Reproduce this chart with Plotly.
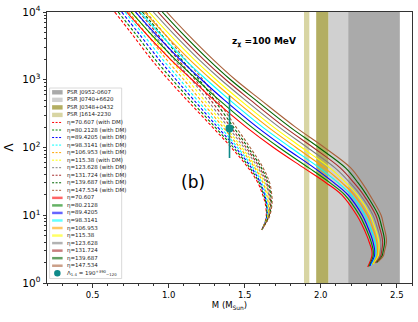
import plotly.graph_objects as go

# ---------------- data ----------------
ETA = [70.607, 80.2128, 89.4205, 98.3141, 106.953, 115.38, 123.628, 131.724, 139.687, 147.534]
CURVE_COLORS = ['#ff0000', '#008000', '#0000ff', '#00ffff', '#ffa500',
                '#ffff00', '#808080', '#a52a2a', '#006400', '#a9603a']

# Solid curves (no DM): M at given Lambda levels, one row per level, one column per eta
LAMBDA_SOLID = [10000, 5000, 2000, 1000, 500, 200, 100, 50, 30, 20, 10, 7, 5, 4, 3, 2.5]
M_SOLID_ROWS = [
    [0.724, 0.753, 0.782, 0.812, 0.841, 0.870, 0.899, 0.929, 0.958, 0.987],
    [0.843, 0.873, 0.903, 0.933, 0.963, 0.993, 1.023, 1.053, 1.083, 1.113],
    [1.012, 1.043, 1.074, 1.105, 1.136, 1.167, 1.198, 1.229, 1.260, 1.291],
    [1.154, 1.186, 1.217, 1.249, 1.281, 1.312, 1.344, 1.376, 1.407, 1.439],
    [1.299, 1.333, 1.367, 1.402, 1.436, 1.470, 1.504, 1.539, 1.573, 1.607],
    [1.510, 1.546, 1.582, 1.618, 1.654, 1.690, 1.726, 1.762, 1.798, 1.834],
    [1.689, 1.726, 1.763, 1.801, 1.838, 1.875, 1.912, 1.950, 1.987, 2.024],
    [1.888, 1.922, 1.957, 1.991, 2.025, 2.060, 2.094, 2.128, 2.163, 2.197],
    [2.036, 2.062, 2.088, 2.115, 2.141, 2.167, 2.193, 2.219, 2.246, 2.272],
    [2.138, 2.158, 2.179, 2.199, 2.220, 2.240, 2.260, 2.281, 2.301, 2.322],
    [2.237, 2.255, 2.273, 2.290, 2.308, 2.326, 2.344, 2.362, 2.379, 2.397],
    [2.274, 2.290, 2.305, 2.321, 2.336, 2.352, 2.368, 2.383, 2.399, 2.414],
    [2.303, 2.317, 2.331, 2.345, 2.359, 2.373, 2.387, 2.401, 2.415, 2.429],
    [2.319, 2.332, 2.344, 2.357, 2.369, 2.382, 2.395, 2.407, 2.420, 2.432],
    [2.336, 2.345, 2.355, 2.364, 2.373, 2.383, 2.392, 2.401, 2.411, 2.420],
    [2.336, 2.344, 2.353, 2.361, 2.369, 2.378, 2.386, 2.394, 2.403, 2.411],
]
M_SOLID_END = [2.309, 2.317, 2.324, 2.332, 2.339, 2.347, 2.355, 2.362, 2.370, 2.377]
LAMBDA_SOLID_END = [1.72, 1.76, 1.80, 1.83, 1.87, 1.91, 1.95, 1.98, 2.02, 2.06]

# Dashed curves (with DM)
LAMBDA_DM = [10000, 5000, 2000, 1000, 500, 200, 100, 50, 30, 20, 15, 10, 8]
M_DM_ROWS = [
    [0.645, 0.668, 0.691, 0.713, 0.736, 0.759, 0.782, 0.805, 0.827, 0.850],
    [0.750, 0.774, 0.798, 0.822, 0.846, 0.870, 0.893, 0.917, 0.941, 0.965],
    [0.886, 0.911, 0.936, 0.960, 0.985, 1.010, 1.035, 1.060, 1.084, 1.109],
    [0.999, 1.024, 1.049, 1.075, 1.100, 1.125, 1.150, 1.175, 1.201, 1.226],
    [1.121, 1.143, 1.166, 1.188, 1.210, 1.233, 1.255, 1.277, 1.300, 1.322],
    [1.288, 1.305, 1.322, 1.340, 1.357, 1.374, 1.391, 1.408, 1.426, 1.443],
    [1.412, 1.426, 1.440, 1.453, 1.467, 1.481, 1.495, 1.509, 1.522, 1.536],
    [1.523, 1.534, 1.545, 1.556, 1.567, 1.577, 1.588, 1.599, 1.610, 1.621],
    [1.587, 1.596, 1.604, 1.613, 1.621, 1.630, 1.638, 1.647, 1.655, 1.664],
    [1.618, 1.625, 1.631, 1.638, 1.645, 1.651, 1.658, 1.665, 1.671, 1.678],
    [1.635, 1.640, 1.645, 1.650, 1.655, 1.660, 1.665, 1.670, 1.675, 1.680],
    [1.642, 1.645, 1.647, 1.650, 1.653, 1.655, 1.658, 1.661, 1.663, 1.666],
    [1.634, 1.635, 1.636, 1.638, 1.639, 1.640, 1.641, 1.642, 1.644, 1.645],
]
M_DM_END = [1.612, 1.613, 1.613, 1.614, 1.615, 1.615, 1.616, 1.617, 1.617, 1.618]
LAMBDA_DM_END = [6.05, 6.10, 6.14, 6.19, 6.24, 6.28, 6.33, 6.38, 6.42, 6.47]

# Pulsar mass bands
PSR_NAMES = ['PSR J0952-0607', 'PSR J0740+6620', 'PSR J0348+0432', 'PSR J1614-2230']
PSR_LO = [2.18, 2.05, 1.97, 1.89]
PSR_HI = [2.52, 2.18, 2.05, 1.925]
PSR_COLORS = ['#aaaaaa', '#d0d0d0', '#b3ae62', '#d8d5a3']

# GW170817 constraint
M_14 = 1.4
LAMBDA_14 = 190
LAMBDA_14_PLUS = 390
LAMBDA_14_MINUS = 120

X_TICKS = [0.5, 1.0, 1.5, 2.0, 2.5]
X_TICK_TEXT = ['0.5', '1.0', '1.5', '2.0', '2.5']
Y_TICKS = [1, 10, 100, 1000, 10000]
Y_TICK_TEXT = ['10<sup>0</sup>', '10<sup>1</sup>', '10<sup>2</sup>', '10<sup>3</sup>', '10<sup>4</sup>']

TEAL = '#0e8a8a'
FONT = 'DejaVu Sans'

# ---------------- figure ----------------
fig = go.Figure()

for k, eta in enumerate(ETA):
    xs = [row[k] for row in M_DM_ROWS] + [M_DM_END[k]]
    ys = LAMBDA_DM + [LAMBDA_DM_END[k]]
    fig.add_trace(go.Scatter(x=xs, y=ys, mode='lines', line_shape='spline',
                             line=dict(color=CURVE_COLORS[k], width=1.1, dash='3px,2px'),
                             showlegend=False, hoverinfo='skip'))

for k, eta in enumerate(ETA):
    xs = [row[k] for row in M_SOLID_ROWS] + [M_SOLID_END[k]]
    ys = LAMBDA_SOLID + [LAMBDA_SOLID_END[k]]
    fig.add_trace(go.Scatter(x=xs, y=ys, mode='lines', line_shape='spline',
                             line=dict(color=CURVE_COLORS[k], width=1.1),
                             showlegend=False, hoverinfo='skip'))

fig.add_trace(go.Scatter(x=[M_14], y=[LAMBDA_14], mode='markers',
                         marker=dict(color=TEAL, size=8),
                         error_y=dict(type='data', symmetric=False, array=[LAMBDA_14_PLUS],
                                      arrayminus=[LAMBDA_14_MINUS], color=TEAL,
                                      thickness=1.6, width=0),
                         showlegend=False, hoverinfo='skip'))

shapes = []
for lo, hi, col in zip(PSR_LO, PSR_HI, PSR_COLORS):
    shapes.append(dict(type='rect', xref='x', yref='paper', x0=lo, x1=hi, y0=0, y1=1,
                       fillcolor=col, line=dict(width=0), layer='below'))

# ---- manual legend (paper coordinates) ----
PL, PR, PT, PB = 47.4, 412.2, 12.0, 283.0
W, H = PR - PL, PB - PT
def px(xp):
    return (xp - PL) / W
def py(yp):
    return (PB - yp) / H

annotations = []
shapes.append(dict(type='rect', xref='paper', yref='paper', x0=px(50), x1=px(122),
                   y0=py(278.5), y1=py(88), fillcolor='white',
                   line=dict(color='#d0d0d0', width=0.8), layer='above'))

row0, step = 92.3, 7.54
labels = []
row = 0
for name, col in zip(PSR_NAMES, PSR_COLORS):
    yc = row0 + step * row
    shapes.append(dict(type='rect', xref='paper', yref='paper', x0=px(52.5), x1=px(63),
                       y0=py(yc + 2.2), y1=py(yc - 2.2), fillcolor=col,
                       line=dict(width=0), layer='above'))
    labels.append((yc, name))
    row += 1
for k, eta in enumerate(ETA):
    yc = row0 + step * row
    shapes.append(dict(type='line', xref='paper', yref='paper', x0=px(52.5), x1=px(63),
                       y0=py(yc), y1=py(yc),
                       line=dict(color=CURVE_COLORS[k], width=1, dash='2px,1.5px'), layer='above'))
    labels.append((yc, f'η={eta} (with DM)'))
    row += 1
for k, eta in enumerate(ETA):
    yc = row0 + step * row
    shapes.append(dict(type='line', xref='paper', yref='paper', x0=px(52.5), x1=px(63),
                       y0=py(yc), y1=py(yc), opacity=0.6,
                       line=dict(color=CURVE_COLORS[k], width=2.5), layer='above'))
    labels.append((yc, f'η={eta}'))
    row += 1
yc = row0 + step * row
shapes.append(dict(type='circle', xref='paper', yref='paper', x0=px(54.5), x1=px(61),
                   y0=py(yc + 3.2), y1=py(yc - 3.2), fillcolor=TEAL,
                   line=dict(width=0), layer='above'))
labels.append((yc, f'Λ<sub>1.4</sub> = {LAMBDA_14}<sup>+{LAMBDA_14_PLUS}</sup><sub>−{LAMBDA_14_MINUS}</sub>'))

for yc, txt in labels:
    annotations.append(dict(xref='paper', yref='paper', x=px(65.5), y=py(yc), text=txt,
                            showarrow=False, xanchor='left', yanchor='middle',
                            font=dict(family=FONT, size=5.5, color='#222')))

annotations.append(dict(xref='x', yref='y', x=1.16, y=1.49, yanchor='middle', xanchor='center',
                        text='(b)', showarrow=False, font=dict(family=FONT, size=17, color='black')))
annotations.append(dict(xref='x', yref='y', x=1.625, y=3.557, yanchor='middle', xanchor='center',
                        text='<b>z<sub>χ</sub> =100 MeV</b>', showarrow=False,
                        font=dict(family=FONT, size=9, color='black')))

fig.update_layout(
    width=418, height=322,
    margin=dict(l=PL, r=418 - PR, t=PT, b=322 - PB, autoexpand=False),
    paper_bgcolor='white', plot_bgcolor='white',
    shapes=shapes, annotations=annotations,
    showlegend=False,
    font=dict(family=FONT, color='black'),
)
fig.update_xaxes(range=[0.2, 2.6], tickvals=X_TICKS, ticktext=X_TICK_TEXT, automargin=False,
                 ticks='outside', ticklen=3.5, tickwidth=0.8, tickcolor='#333',
                 minor=dict(dtick=0.1, tick0=0, ticks='outside', ticklen=2, tickwidth=0.6, tickcolor='#333'),
                 showline=True, linecolor='#333', linewidth=1, mirror=True, showgrid=False,
                 zeroline=False, tickfont=dict(family=FONT, size=8.5),
                 title=dict(text='M (M<sub>Sun</sub>)', font=dict(family=FONT, size=8.5), standoff=3))
minor_y = [m * 10 ** e for e in range(0, 4) for m in range(2, 10)]
fig.update_yaxes(type='log', range=[0, 4], tickvals=Y_TICKS, ticktext=Y_TICK_TEXT, automargin=False,
                 ticks='outside', ticklen=3.5, tickwidth=0.8, tickcolor='#333',
                 minor=dict(tickvals=minor_y, ticks='outside', ticklen=2, tickwidth=0.6, tickcolor='#333'),
                 showline=True, linecolor='#333', linewidth=1, mirror=True, showgrid=False,
                 zeroline=False, tickfont=dict(family=FONT, size=10.5),
                 title=dict(text='Λ', font=dict(family=FONT, size=12), standoff=6))

fig.write_html('out.html', config={'displayModeBar': False},
               post_script="document.body.style.margin='0';document.body.style.padding='0';")
